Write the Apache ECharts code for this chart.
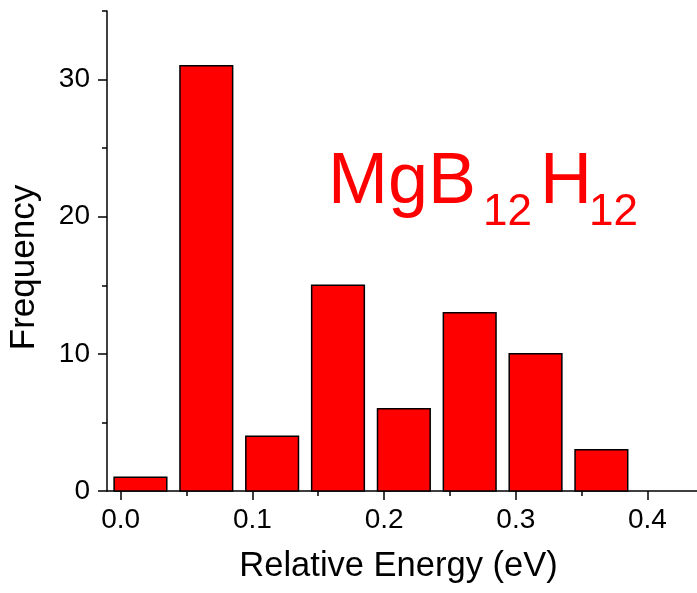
<!DOCTYPE html>
<html>
<head>
<meta charset="utf-8">
<script src="https://cdn.jsdelivr.net/npm/echarts@6/dist/echarts.min.js"></script>
<style>
html,body{margin:0;padding:0;background:#fff;}
#chart{width:697px;height:593px;}
</style>
</head>
<body>
<div id="chart"></div>
<script>
// Data
const binCenters = [0.015, 0.065, 0.115, 0.165, 0.215, 0.265, 0.315, 0.365];
const frequencies = [1, 31, 4, 15, 6, 13, 10, 3];
const xMajorTicks = [0, 0.1, 0.2, 0.3, 0.4];
const xMinorTicks = [0.05, 0.15, 0.25, 0.35];
const yMajorTicks = [0, 10, 20, 30];
const yMinorTicks = [5, 15, 25, 35];

const xMin = -0.0104, xMax = 0.4376;
const yMin = 0, yMax = 35;
const barWidth = 0.04;

const chart = echarts.init(document.getElementById('chart'), null, {renderer: 'canvas'});
const font = 'Liberation Sans, Arial, Helvetica, sans-serif';
const axisColor = '#000';

const seriesData = binCenters.map((c, i) => [c, frequencies[i]]);

const option = {
  animation: false,
  backgroundColor: '#fff',
  grid: {left: 107, right: 0, top: 11, bottom: 102, containLabel: false, outerBoundsMode: 'none'},
  xAxis: [
    {
      type: 'value', min: xMin, max: xMax, position: 'bottom',
      axisLine: {show: true, onZero: false, lineStyle: {color: axisColor, width: 1.5}},
      axisTick: {show: true, inside: false, length: 9, customValues: xMajorTicks, lineStyle: {color: axisColor, width: 1.5}},
      axisLabel: {show: true, customValues: xMajorTicks, margin: 15, fontSize: 28, fontFamily: font, color: '#000',
        formatter: v => Number(v).toFixed(1)},
      splitLine: {show: false}
    },
    {
      type: 'value', min: xMin, max: xMax, position: 'bottom',
      axisLine: {show: false, onZero: false},
      axisTick: {show: true, inside: false, length: 5, customValues: xMinorTicks, lineStyle: {color: axisColor, width: 1.5}},
      axisLabel: {show: false},
      splitLine: {show: false}
    }
  ],
  yAxis: [
    {
      type: 'value', min: yMin, max: yMax, position: 'left',
      axisLine: {show: true, onZero: false, lineStyle: {color: axisColor, width: 1.5}},
      axisTick: {show: true, inside: false, length: 9, customValues: yMajorTicks, lineStyle: {color: axisColor, width: 1.5}},
      axisLabel: {show: true, customValues: yMajorTicks, margin: 17, fontSize: 28, fontFamily: font, color: '#000',
        formatter: v => String(Math.round(v))},
      splitLine: {show: false}
    },
    {
      type: 'value', min: yMin, max: yMax, position: 'left',
      axisLine: {show: false, onZero: false},
      axisTick: {show: true, inside: false, length: 5, customValues: yMinorTicks, lineStyle: {color: axisColor, width: 1.5}},
      axisLabel: {show: false},
      splitLine: {show: false}
    }
  ],
  series: [{
    type: 'custom',
    xAxisIndex: 0, yAxisIndex: 0,
    data: seriesData,
    encode: {x: 0, y: 1},
    renderItem: function (params, api) {
      const x = api.value(0), y = api.value(1);
      const p0 = api.coord([x - barWidth / 2, y]);
      const p1 = api.coord([x + barWidth / 2, 0]);
      return {
        type: 'rect',
        shape: {x: p0[0], y: p0[1], width: p1[0] - p0[0], height: p1[1] - p0[1]},
        style: {fill: '#ff0000', stroke: '#000', lineWidth: 1.5}
      };
    }
  }],
  graphic: [
    {type: 'text', x: 398.5, y: 566, style: {text: 'Relative Energy (eV)', font: '34.5px ' + font, fill: '#000', align: 'center', verticalAlign: 'middle'}},
    {type: 'text', x: 24, y: 267.5, rotation: Math.PI / 2, style: {text: 'Frequency', font: '35px ' + font, fill: '#000', align: 'center', verticalAlign: 'middle'}},
    {type: 'text', x: 328, y: 183.5, style: {text: 'MgB', font: '72px ' + font, fill: '#ff0000', align: 'left', verticalAlign: 'middle'}},
    {type: 'text', x: 483, y: 212.5, style: {text: '12', font: '44px ' + font, fill: '#ff0000', align: 'left', verticalAlign: 'middle'}},
    {type: 'text', x: 540, y: 183.5, style: {text: 'H', font: '72px ' + font, fill: '#ff0000', align: 'left', verticalAlign: 'middle'}},
    {type: 'text', x: 589, y: 212.5, style: {text: '12', font: '44px ' + font, fill: '#ff0000', align: 'left', verticalAlign: 'middle'}}
  ]
};
chart.setOption(option);
</script>
</body>
</html>
